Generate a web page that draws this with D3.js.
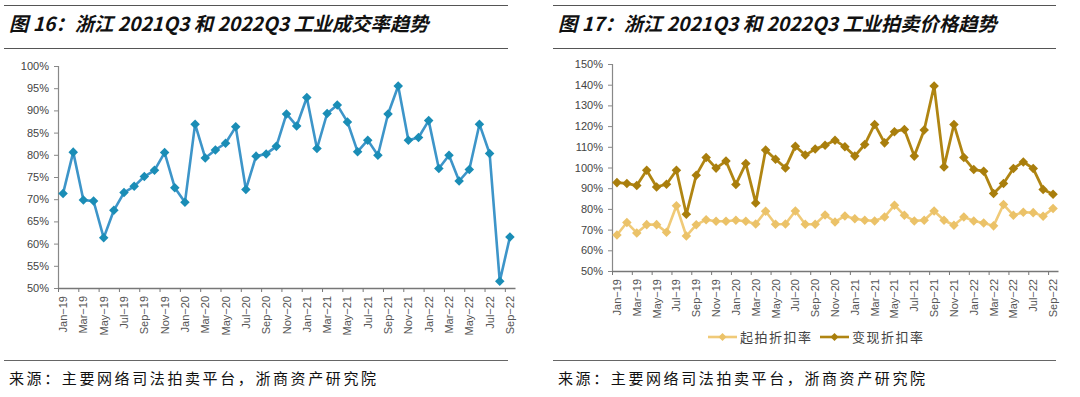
<!DOCTYPE html>
<html>
<head>
<meta charset="utf-8">
<script src="https://cdn.jsdelivr.net/npm/d3@7"></script>
<style>
  body { margin: 0; background: #fff; }
  svg { display: block; }
</style>
</head>
<body>
<svg id="chart" width="1080" height="397"></svg>
<script>
// month labels Jan-19 .. Sep-22
const monthNames = ['Jan','Feb','Mar','Apr','May','Jun','Jul','Aug','Sep','Oct','Nov','Dec'];
const months = [];
for (const yr of ['19','20','21','22']) {
  for (const m of monthNames) {
    if (yr === '22' && months.length >= 45) break;
    months.push(m + '-' + yr);
  }
}

// 成交率 (%)
const dealRate = [71.3, 80.6, 69.8, 69.6, 61.3, 67.5, 71.5, 72.9, 75.1, 76.5, 80.5, 72.6,
  69.3, 86.9, 79.3, 81.1, 82.6, 86.3, 72.2, 79.7, 80.2, 81.9, 89.2, 86.5,
  92.9, 81.4, 89.3, 91.2, 87.4, 80.7, 83.3, 79.9, 89.2, 95.5, 83.3, 83.9,
  87.7, 76.9, 79.9, 74.1, 76.7, 86.9, 80.3, 51.5, 61.5];

// 起拍折扣率 (%)
const startRate = [67.4, 73.4, 68.4, 72.4, 72.4, 68.7, 81.5, 66.9, 72.3, 74.8, 74.0, 74.0,
  74.5, 74.0, 72.7, 78.9, 72.6, 72.7, 79.0, 72.6, 72.6, 77.1, 73.7, 76.6,
  75.2, 74.5, 74.2, 76.1, 81.8, 76.9, 74.2, 74.5, 79.0, 74.5, 72.1, 76.1,
  74.2, 73.2, 71.8, 82.1, 76.9, 78.4, 78.2, 76.5, 80.2];

// 变现折扣率 (%)
const realRate = [92.7, 92.3, 91.3, 98.7, 90.6, 91.9, 98.7, 77.4, 96.3, 104.8, 99.7, 103.1,
  91.8, 101.9, 82.9, 108.4, 104.0, 99.8, 110.3, 106.0, 108.9, 110.8, 113.2, 110.0,
  105.5, 111.1, 120.8, 111.9, 117.3, 118.4, 105.5, 118.1, 139.4, 100.3, 120.8, 104.8,
  99.0, 98.2, 87.4, 92.3, 99.5, 102.7, 99.5, 89.4, 87.1];

const leftTicks = [50, 55, 60, 65, 70, 75, 80, 85, 90, 95, 100];
const rightTicks = [50, 60, 70, 80, 90, 100, 110, 120, 130, 140, 150];

const svg = d3.select('#chart');
const cjk = '"Noto Sans CJK SC", sans-serif';
const latin = '"Liberation Sans", Arial, sans-serif';

function panelFrame(x0, x1, title, source) {
  svg.append('line').attr('x1', x0).attr('x2', x1).attr('y1', 5.5).attr('y2', 5.5)
    .attr('stroke', '#555').attr('stroke-width', 1.2);
  svg.append('line').attr('x1', x0).attr('x2', x1).attr('y1', 48.5).attr('y2', 48.5)
    .attr('stroke', '#555').attr('stroke-width', 1.2);
  svg.append('text').attr('x', x0 + 5).attr('y', 31)
    .style('font-family', cjk).style('font-size', '19.3px').style('font-style', 'italic')
    .style('font-weight', 'bold').attr('fill', '#111')
    .text(title);
  svg.append('line').attr('x1', x0).attr('x2', x1).attr('y1', 360.5).attr('y2', 360.5)
    .attr('stroke', '#666').attr('stroke-width', 1.2);
  svg.append('text').attr('x', x0 + 5).attr('y', 384)
    .style('font-family', cjk).style('font-size', '15px').style('letter-spacing', '2.6px')
    .attr('fill', '#111')
    .text(source);
}

function diamond(g, pts, fill, size) {
  g.selectAll(null).data(pts).enter().append('path')
    .attr('d', d3.symbol().type(d3.symbolDiamond2).size(size))
    .attr('transform', d => `translate(${d[0]},${d[1]})`)
    .attr('fill', fill);
}

function drawChart(opt) {
  const g = svg.append('g');
  const x = d3.scaleBand().domain(months).range([opt.x0, opt.x1]).padding(0);
  const xb = d3.scaleLinear().domain([0, months.length]).range([opt.x0, opt.x1]);
  const y = d3.scaleLinear().domain([opt.ticks[0], opt.ticks[opt.ticks.length - 1]])
    .range([opt.yBottom, opt.yTop]);

  // y axis
  const ya = g.append('g').attr('transform', `translate(${opt.x0},0)`)
    .call(d3.axisLeft(y).tickValues(opt.ticks).tickSize(4).tickFormat(d => d + '%'));
  ya.select('.domain').attr('stroke', '#888').attr('stroke-width', 1.2);
  ya.selectAll('.tick line').attr('stroke', '#888');
  ya.selectAll('.tick text').attr('x', -9).attr('fill', '#444')
    .style('font-family', latin).style('font-size', '11px');

  // x axis
  const xa = g.append('g').attr('transform', `translate(0,${opt.yBottom})`)
    .call(d3.axisBottom(xb).tickValues(d3.range(0, months.length, 2)).tickSize(4)
      .tickSizeOuter(0).tickFormat(''));
  xa.select('.domain').attr('stroke', '#777').attr('stroke-width', 1.5);
  xa.selectAll('.tick line').attr('stroke', '#777');

  g.selectAll(null).data(months.filter((m, i) => i % 2 === 0)).enter().append('text')
    .attr('transform', d => `translate(${x(d) + x.bandwidth() / 2 + 4},${opt.yBottom + 8}) rotate(-90)`)
    .attr('text-anchor', 'end')
    .attr('fill', '#555')
    .style('font-family', latin).style('font-size', '11px')
    .text(d => d.replace('-', '\u2212'));

  const line = d3.line().x((d, i) => x(months[i]) + x.bandwidth() / 2).y(d => y(d));
  opt.series.forEach(s => {
    g.append('path').datum(s.values).attr('d', line)
      .attr('fill', 'none').attr('stroke', s.color).attr('stroke-width', s.width)
      .attr('stroke-linejoin', 'round');
    diamond(g, s.values.map((v, i) => [x(months[i]) + x.bandwidth() / 2, y(v)]), s.marker, 58);
  });
  return g;
}

panelFrame(4, 508, '图 16：浙江 2021Q3 和 2022Q3 工业成交率趋势', '来源：主要网络司法拍卖平台，浙商资产研究院');
panelFrame(553, 1056, '图 17：浙江 2021Q3 和 2022Q3 工业拍卖价格趋势', '来源：主要网络司法拍卖平台，浙商资产研究院');

drawChart({
  x0: 58, x1: 515, yTop: 66, yBottom: 288, ticks: leftTicks,
  series: [{ values: dealRate, color: '#3D95C9', marker: '#1A8DB6', width: 2.6 }]
});

const rightSeries = [
  { name: '起拍折扣率', values: startRate, color: '#F0CA78', marker: '#EBC268', width: 2.6 },
  { name: '变现折扣率', values: realRate, color: '#B08512', marker: '#A97E0C', width: 2.8 }
];
drawChart({
  x0: 612, x1: 1058, yTop: 64, yBottom: 271, ticks: rightTicks,
  series: rightSeries
});

// legend
const legendX = [708, 820];
rightSeries.forEach((s, i) => {
  const lg = svg.append('g').attr('transform', `translate(${legendX[i]},337)`);
  lg.append('line').attr('x1', 0).attr('x2', 29).attr('y1', 0).attr('y2', 0)
    .attr('stroke', s.color).attr('stroke-width', 2.6);
  diamond(lg, [[14.5, 0]], s.marker, 40);
  lg.append('text').attr('x', 32).attr('y', 4.5)
    .style('font-family', cjk).style('font-size', '13px').style('letter-spacing', '1.5px')
    .attr('fill', '#444').text(s.name);
});
</script>
</body>
</html>
